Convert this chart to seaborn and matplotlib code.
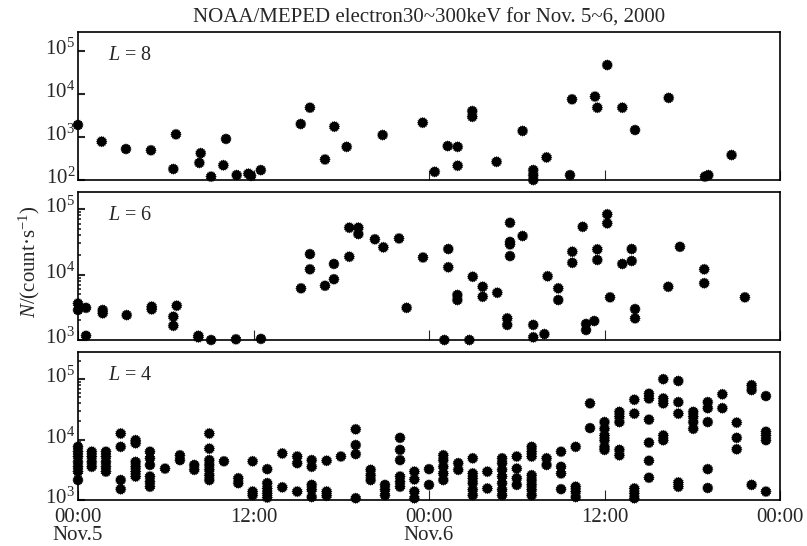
import numpy as np
import pandas as pd
import matplotlib
matplotlib.use("Agg")
import matplotlib.pyplot as plt
import matplotlib.transforms as mtrans
import seaborn as sns
from matplotlib.path import Path
from matplotlib.ticker import FixedLocator, FuncFormatter, LogLocator, NullFormatter

# ---- data (hours since 00:00 Nov.5, counts per second) ----
l8_hours = [0.0, 1.62, 3.28, 4.99, 6.70, 6.52, 8.30, 8.39, 9.10, 10.12, 9.94, 10.85,
            11.65, 11.83, 12.5, 15.23, 15.86, 16.89, 17.53, 18.37, 20.83, 23.57,
            24.39, 25.28, 25.96, 25.96, 26.96, 26.96, 28.62, 30.4, 31.13, 31.13,
            31.13, 32.04, 33.64, 33.78, 35.35, 35.51, 36.19, 37.22, 38.09, 40.39,
            42.87, 43.1, 44.69]
l8_counts = [1900, 780, 525, 490, 1150, 180, 250, 420, 120, 900, 220, 130,
             140, 125, 170, 2000, 4800, 300, 1740, 590, 1110, 2150,
             155, 615, 590, 215, 4000, 2950, 265, 1380, 170, 130,
             100, 335, 130, 7500, 8700, 4800, 47000, 4800, 1450, 8100,
             120, 130, 380]

l6_hours = [0.0, 0.0, 0.55, 0.55, 1.69, 1.69, 3.33, 5.04, 5.04, 6.75, 6.52, 6.52,
            8.23, 8.23, 9.1, 10.8, 12.51, 15.25, 15.86, 15.86, 16.89, 17.5, 17.5,
            18.55, 18.55, 19.17, 19.17, 20.3, 20.88, 21.95, 22.47, 23.59, 25.05,
            25.32, 25.32, 25.94, 25.94, 26.76, 26.99, 27.67, 27.67, 28.67, 29.35,
            29.35, 29.54, 29.54, 29.54, 29.54, 30.4, 31.13, 31.13, 31.89, 32.11,
            32.84, 32.84, 33.8, 33.8, 34.51, 34.74, 34.74, 35.3, 35.51, 35.51,
            36.19, 36.19, 36.38, 37.22, 37.86, 37.86, 38.09, 38.09, 40.36, 41.16,
            42.82, 42.82, 45.6]
l6_counts = [3600, 2870, 3100, 1160, 2870, 2560, 2400, 3230, 2940, 3340, 2270, 1650,
             1160, 1100, 1000, 1025, 1040, 6150, 20500, 12000, 6740, 8470, 14500,
             18700, 51900, 51900, 41500, 34500, 26000, 35500, 3100, 18200, 1000,
             24500, 12900, 4870, 4080, 1000, 9250, 6500, 4580, 5270, 2140,
             1700, 61700, 31500, 28800, 19100, 38700, 1700, 1100, 1230, 9400,
             6150, 4080, 22300, 15100, 53500, 1760, 1420, 1950, 24200, 16700,
             83000, 60500, 4480, 14500, 24500, 16100, 2970, 2140, 6500, 26500,
             12000, 7360, 4480]

l4_hours = [0.0, 0.94, 1.91, 2.92, 3.94, 4.92, 5.95, 6.97, 7.95, 8.98, 9.98, 10.96,
            11.94, 12.94, 13.97, 14.99, 15.98, 17.0, 17.98, 18.99, 20.01, 20.99,
            22.02, 23.0, 24.0, 24.98, 26.0, 26.99, 27.99, 29.0, 30.0, 31.02, 32.04,
            33.03, 34.03, 35.01, 36.0, 37.02, 38.04, 39.04, 40.02, 41.05, 42.07,
            43.06, 44.06, 45.04, 46.06, 47.04]
l4_counts = [
    [7590, 6310, 5250, 4270, 3550, 2950, 2140],
    [6310, 5250, 4270, 3550],
    [6310, 5250, 4270, 3550, 2950],
    [12600, 7590, 2140, 1510],
    [9770, 8710, 4270, 3550, 2950, 2450],
    [6310, 4900, 3800, 2450, 2000, 1660],
    [3310],
    [5500, 4570],
    [3800, 3160],
    [12600, 7080, 4570, 3800, 3160, 2570, 2140],
    [4370],
    [2290, 1900],
    [4370, 1380, 1200],
    [3240, 1900, 1550, 1290, 1100],
    [5890, 1620],
    [5250, 4070, 1380],
    [4570, 3550, 1780, 1480, 1120],
    [4470, 1380, 1175],
    [5250],
    [14800, 8130, 5750, 1070],
    [3160, 2570, 2140],
    [1780, 1480, 1200],
    [10700, 6760, 4570, 2450, 2000, 1660],
    [2950, 2190, 1380, 1070],
    [3240, 1780],
    [5500, 4570, 3550, 2750, 2140],
    [4070, 3160],
    [4900, 2750, 2290, 1900, 1480, 1200],
    [2950, 1550],
    [4900, 4070, 3160, 2450, 1900, 1480, 1200],
    [5250, 3310, 2290, 1780],
    [7590, 6310, 5250, 2570, 2140, 1780, 1480, 1200],
    [4900, 3800],
    [6310, 3550, 2750, 1510],
    [7590, 1660, 1380, 1120],
    [39800, 15500],
    [19500, 15100, 11700, 9770, 7590, 6760],
    [28800, 24000, 19500, 6760, 5500],
    [45700, 26900, 1550, 1290, 1070],
    [57500, 47900, 21400, 8910, 4470, 2340],
    [100000, 47900, 39800, 11700, 9770],
    [93300, 41700, 26900, 1950, 1660],
    [28800, 24000, 19500, 15100],
    [41700, 33100, 19500, 3240, 1580],
    [56200, 33100],
    [19100, 10700, 6920],
    [79400, 66100, 1780],
    [52500, 13500, 11700, 9770, 1380],
]

x_ticks = [0, 12, 24, 36, 48]
x_ticklabels = ["00:00\nNov.5", "12:00", "00:00\nNov.6", "12:00", "00:00"]
title = "NOAA/MEPED electron30~300keV for Nov. 5~6, 2000"

sns.set_style("ticks")
plt.rcParams["font.family"] = ["Liberation Serif", "DejaVu Serif"]
plt.rcParams["mathtext.fontset"] = "custom"
plt.rcParams["mathtext.rm"] = "Liberation Serif"
plt.rcParams["mathtext.it"] = "Liberation Serif:italic"

# jagged disc, looks like the bold asterisk of the original
theta = np.linspace(0, 2 * np.pi, 33)[:-1]
rad = np.where(np.arange(32) % 2 == 0, 1.0, 0.8)
verts = np.c_[rad * np.cos(theta), rad * np.sin(theta)]
star = Path(np.vstack([verts, verts[:1]]), closed=True)

df8 = pd.DataFrame({"hour": l8_hours, "N": l8_counts})
df6 = pd.DataFrame({"hour": l6_hours, "N": l6_counts})
df4 = pd.DataFrame({"hour": [h for h, c in zip(l4_hours, l4_counts) for _ in c],
                    "N": [v for c in l4_counts for v in c]})

fig = plt.figure(figsize=(8.07, 5.46), dpi=100)
left, width, height = 78 / 807, 702 / 807, 148 / 546
ax8 = fig.add_axes([left, 1 - 180 / 546, width, height])
ax6 = fig.add_axes([left, 1 - 340 / 546, width, height])
ax4 = fig.add_axes([left, 1 - 500 / 546, width, height])

panels = [(ax8, df8, "8", (1e2, 10 ** 5.44), [1e2, 1e3, 1e4, 1e5]),
          (ax6, df6, "6", (1e3, 10 ** 5.26), [1e3, 1e4, 1e5]),
          (ax4, df4, "4", (1e3, 10 ** 5.45), [1e3, 1e4, 1e5])]

lift = mtrans.ScaledTranslation(0, 3 / 72, fig.dpi_scale_trans)

for ax, df, lval, ylim, yt in panels:
    sns.scatterplot(data=df, x="hour", y="N", ax=ax, marker=star, s=68,
                    color="black", edgecolor="none", linewidth=0, clip_on=False, legend=False)
    ax.set_yscale("log")
    ax.set_xlim(0, 48)
    ax.set_ylim(*ylim)
    ax.yaxis.set_major_locator(FixedLocator(yt))
    ax.yaxis.set_major_formatter(FuncFormatter(lambda v, p: "10$^{%d}$" % round(np.log10(v))))
    ax.yaxis.set_minor_locator(LogLocator(base=10, subs=np.arange(2, 10)))
    ax.yaxis.set_minor_formatter(NullFormatter())
    ax.set_xticks(x_ticks)
    ax.tick_params(axis="y", which="major", direction="in", length=5, width=1.5, labelsize=15, pad=2)
    ax.tick_params(axis="y", which="minor", direction="in", length=2.5, width=1.2)
    ax.tick_params(axis="x", direction="in", length=7, width=0.8, labelsize=15, pad=6)
    for lab in ax.get_yticklabels():
        lab.set_transform(lab.get_transform() + lift)
    ax.set_xlabel("")
    ax.set_ylabel("")
    for sp in ax.spines.values():
        sp.set_visible(True)
        sp.set_linewidth(1.2)
        sp.set_color("black")
    ax.text(0.043, 0.84, "$L$ = " + lval, transform=ax.transAxes, fontsize=14.5, va="center")
    if ax is ax4:
        ax.set_xticklabels(x_ticklabels, linespacing=0.88)
    else:
        ax.set_xticklabels([])

ax8.set_title(title, fontsize=15, pad=7)
fig.text(0.036, 1 - 262 / 546, "$N$/(count·s$^{-1}$)", rotation=90, fontsize=15,
         ha="center", va="center")

fig.savefig("out.png", dpi=100)
plt.close(fig)
